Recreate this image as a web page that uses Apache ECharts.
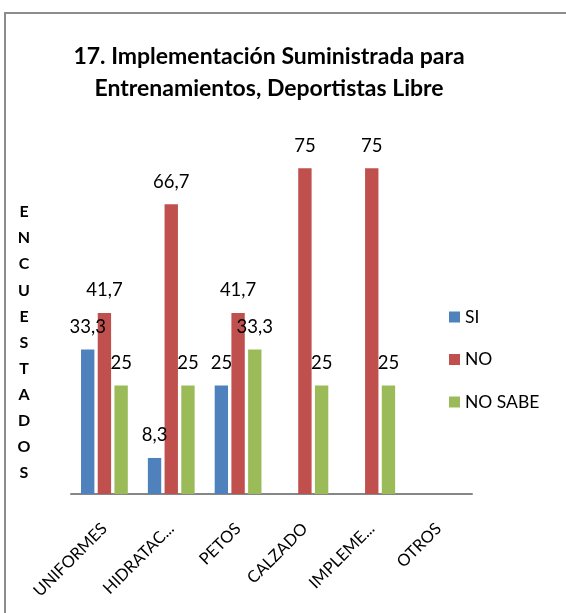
<!DOCTYPE html>
<html style="height:100%">
<head>
<meta charset="utf-8">
<script src="https://cdn.jsdelivr.net/npm/echarts@6/dist/echarts.min.js"></script>
</head>
<body style="height:100%; margin:0; background:#fff">
<div id="container" style="width:566px; height:613px"></div>
<script type="text/javascript">
// datos
var categorias = ['UNIFORMES', 'HIDRATAC...', 'PETOS', 'CALZADO', 'IMPLEME...', 'OTROS'];
var si = [33.3, 8.3, 25, null, null, null];
var no = [41.7, 66.7, 41.7, 75, 75, null];
var noSabe = [25, 25, 33.3, 25, 25, null];
var letrasEje = ['E', 'N', 'C', 'U', 'E', 'S', 'T', 'A', 'D', 'O', 'S'];

var fuente = 'Lato';
var dom = document.getElementById('container');
var myChart = echarts.init(dom);

function etiqueta(p) {
    return String(p.value).replace('.', ',');
}

function serie(nombre, datos, color) {
    return {
        name: nombre,
        type: 'bar',
        data: datos,
        barGap: '25%',
        barCategoryGap: '30%',
        itemStyle: { color: color },
        label: {
            show: true,
            position: 'top',
            distance: 13,
            formatter: etiqueta,
            fontFamily: fuente,
            fontSize: 18.5,
            lineHeight: 19,
            color: '#000'
        }
    };
}

var option = {
    animation: false,
    title: {
        text: '17. Implementación Suministrada para\nEntrenamientos, Deportistas Libre',
        left: 264,
        top: 36,
        textAlign: 'center',
        textStyle: {
            fontFamily: fuente,
            fontWeight: 'bold',
            fontSize: 23,
            lineHeight: 32,
            color: '#000'
        }
    },
    legend: {
        orient: 'vertical',
        left: 449,
        top: 308,
        padding: 0,
        icon: 'rect',
        itemWidth: 11,
        itemHeight: 11,
        itemGap: 24.5,
        textStyle: { fontFamily: fuente, fontSize: 17.5, lineHeight: 18, color: '#000' },
        data: ['SI', 'NO', 'NO SABE']
    },
    grid: { left: 71, right: 94, top: 146.6, bottom: 119 },
    xAxis: {
        type: 'category',
        data: categorias,
        axisLine: { lineStyle: { color: '#868686', width: 2 } },
        axisTick: { show: false },
        axisLabel: {
            rotate: 45,
            margin: 32,
            interval: 0,
            fontFamily: fuente,
            fontSize: 16.5,
            color: '#000'
        }
    },
    yAxis: {
        type: 'value',
        min: 0,
        max: 80,
        show: false
    },
    graphic: [
        {
            type: 'polyline',
            shape: { points: [[5, 700], [5, 13], [700, 13]] },
            style: { fill: null, stroke: '#8c8c8c', lineWidth: 2 },
            silent: true
        },
        {
            type: 'text',
            x: 24,
            y: 199,
            style: {
                text: letrasEje.join('\n'),
                fontFamily: fuente,
                fontWeight: 'bold',
                fontSize: 16,
                lineHeight: 26.1,
                align: 'center',
                fill: '#000'
            }
        }
    ],
    series: [
        serie('SI', si, '#4F81BD'),
        serie('NO', no, '#C0504D'),
        serie('NO SABE', noSabe, '#9BBB59')
    ]
};

myChart.setOption(option);
</script>
</body>
</html>
